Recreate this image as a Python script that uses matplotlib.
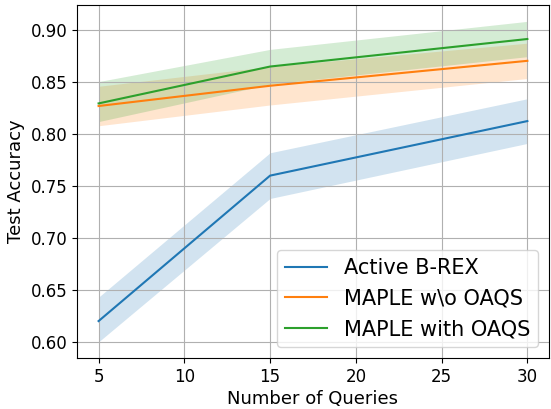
import matplotlib
matplotlib.use('Agg')
import numpy as np
import matplotlib.pyplot as plt

queries = [5, 15, 30]

brex_mean = [0.620, 0.760, 0.8125]
brex_lo   = [0.600, 0.738, 0.791]
brex_hi   = [0.643, 0.782, 0.834]

wo_mean = [0.827, 0.8465, 0.8705]
wo_lo   = [0.808, 0.828, 0.8535]
wo_hi   = [0.846, 0.865, 0.8875]

with_mean = [0.8295, 0.865, 0.8915]
with_lo   = [0.812, 0.848, 0.8745]
with_hi   = [0.8505, 0.8815, 0.9085]

series = [
    ('Active B-REX',    brex_mean, brex_lo, brex_hi, 'tab:blue'),
    ('MAPLE w\\o OAQS', wo_mean,   wo_lo,   wo_hi,   'tab:orange'),
    ('MAPLE with OAQS', with_mean, with_lo, with_hi, 'tab:green'),
]

fig = plt.figure(figsize=(5.51, 4.09), dpi=100)
ax = fig.add_axes([0.14, 0.125, 0.856, 0.862])

for label, m, lo, hi, c in series:
    ax.plot(queries, m, color=c, lw=1.5, label=label)
    ax.fill_between(queries, lo, hi, color=c, alpha=0.2, lw=0)

ax.set_xticks([5, 10, 15, 20, 25, 30])
ax.tick_params(labelsize=12)
ax.set_xlabel('Number of Queries', fontsize=13, labelpad=3)
ax.set_ylabel('Test Accuracy', fontsize=13)
ax.grid(True)
ax.legend(loc='lower right', fontsize=15)

fig.savefig('out.png', dpi=100)
